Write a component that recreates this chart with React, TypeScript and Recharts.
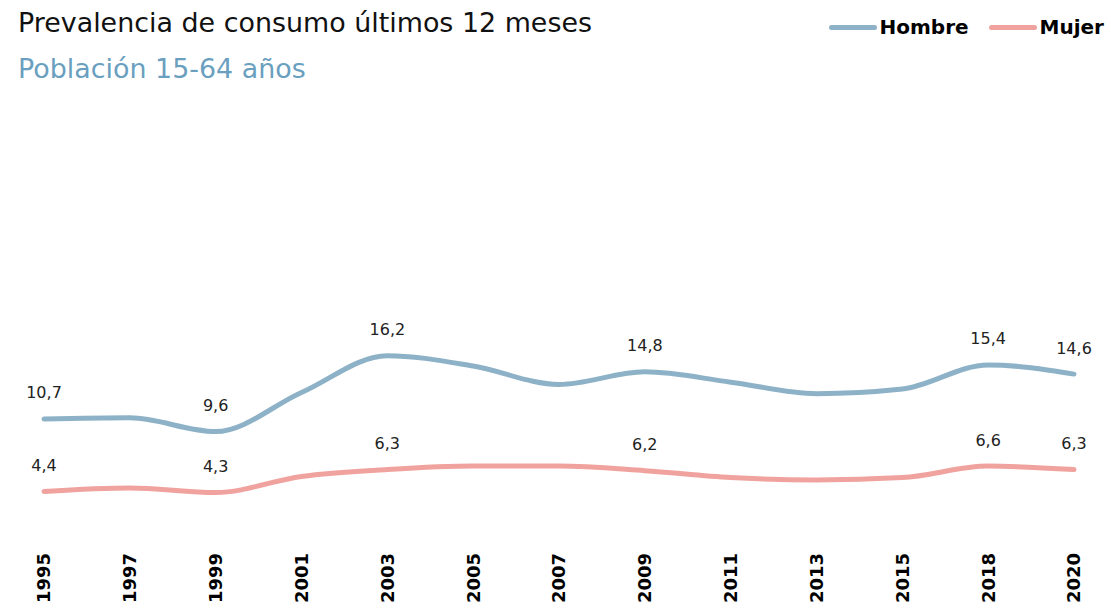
import React from 'react';
import { LineChart, Line, XAxis, YAxis, LabelList } from 'recharts';

const years = ['1995', '1997', '1999', '2001', '2003', '2005', '2007', '2009', '2011', '2013', '2015', '2018', '2020'];
const hombre = [10.7, 10.8, 9.6, 13.0, 16.2, 15.3, 13.7, 14.8, 13.9, 12.9, 13.3, 15.4, 14.6];
const mujer = [4.4, 4.7, 4.3, 5.7, 6.3, 6.6, 6.6, 6.2, 5.6, 5.4, 5.6, 6.6, 6.3];
// only these years carry a value label in the original
const labelledYears = ['1995', '1999', '2003', '2009', '2018', '2020'];

const HOMBRE_COLOR = '#8db2c7';
const MUJER_COLOR = '#f0a29e';
const FONT = '"DejaVu Sans", sans-serif';

const series = [
  { key: 'hombre', name: 'Hombre', color: HOMBRE_COLOR },
  { key: 'mujer', name: 'Mujer', color: MUJER_COLOR },
];

const data = years.map((year, i) => ({ year, hombre: hombre[i], mujer: mujer[i] }));

const fmt = (v: number) => v.toFixed(1).replace('.', ',');

const ValueLabel = (props: any) => {
  const { x, y, value, index } = props;
  if (!labelledYears.includes(years[index])) return null;
  return (
    <text x={x} y={y - 26} textAnchor="middle" dominantBaseline="central" fontSize={16} fill="#222" fontFamily={FONT}>
      {fmt(value)}
    </text>
  );
};

const YearTick = (props: any) => {
  const { x, payload } = props;
  return (
    <text
      transform={`translate(${x},553) rotate(-90)`}
      textAnchor="end"
      dy="0.36em"
      fontSize={18}
      fontWeight="bold"
      fill="#000"
      fontFamily={FONT}
    >
      {payload.value}
    </text>
  );
};

export default function App() {
  return (
    <div style={{ position: 'absolute', left: 0, top: 0, width: 1111, height: 613, background: '#fff', overflow: 'hidden' }}>
      <div style={{ position: 'absolute', left: 18, top: 7, fontFamily: FONT, fontSize: 26.9, color: '#111', whiteSpace: 'nowrap' }}>
        Prevalencia de consumo últimos 12 meses
      </div>
      <div style={{ position: 'absolute', left: 18, top: 53, fontFamily: FONT, fontSize: 26.9, color: '#6a9fbf', whiteSpace: 'nowrap' }}>
        Población 15-64 años
      </div>
      <div
        style={{
          position: 'absolute',
          top: 15,
          right: 7,
          display: 'flex',
          alignItems: 'center',
          fontFamily: FONT,
          fontWeight: 'bold',
          fontSize: 20,
          color: '#000',
        }}
      >
        {series.map((s, i) => (
          <div key={s.key} style={{ display: 'flex', alignItems: 'center', marginLeft: i ? 20 : 0 }}>
            <span style={{ display: 'inline-block', width: 48, height: 5, borderRadius: 3, background: s.color, marginRight: 3 }} />
            <span>{s.name}</span>
          </div>
        ))}
      </div>
      <LineChart width={1111} height={613} data={data} margin={{ top: 82, right: 37, left: 44, bottom: 0 }}>
        <XAxis
          dataKey="year"
          axisLine={false}
          tickLine={false}
          height={71}
          interval={0}
          tick={<YearTick />}
        />
        <YAxis hide domain={[0, 40]} />
        {series.map((s) => (
          <Line
            key={s.key}
            type="monotone"
            dataKey={s.key}
            name={s.name}
            stroke={s.color}
            strokeWidth={5}
            strokeLinecap="round"
            dot={false}
            isAnimationActive={false}
          >
            <LabelList dataKey={s.key} content={<ValueLabel />} />
          </Line>
        ))}
      </LineChart>
    </div>
  );
}
